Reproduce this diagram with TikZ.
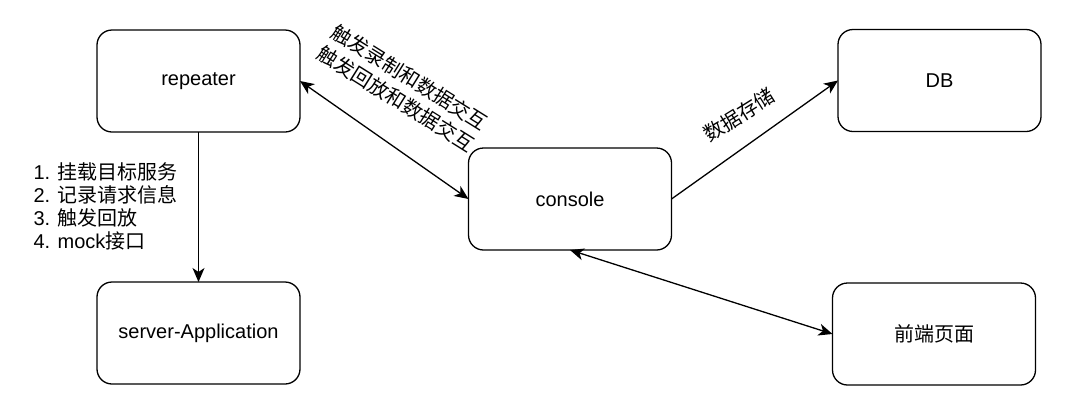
\documentclass[tikz,border=0pt]{standalone}
\usepackage{fontspec}
\setmainfont{Liberation Sans}
\newfontfamily\cjk{Noto Sans CJK SC}
\usepackage{tikz}
\usetikzlibrary{arrows.meta}

\tikzset{
	block/.style={draw, line width=1.3pt, rounded corners=15pt, minimum width=203pt, minimum height=102pt, inner sep=0pt, outer sep=0pt},
	tip/.tip={Stealth[length=14pt,width=12pt,inset=4pt]},
	link/.style={line width=1.3pt, -tip},
	bilink/.style={line width=1.3pt, tip-tip},
	cjktext/.style={font=\fontsize{20}{23}\selectfont\cjk}
}

\begin{document}
\begin{tikzpicture}[x=1pt, y=-1pt, font=\fontsize{20}{23}\selectfont]
	\useasboundingbox (0,0) rectangle (1080,416);
	\node[block] (repeater) at (198.5,81) {repeater};
	\node[block] (server) at (198.5,333) {server-Application};
	\node[block] (console) at (570,199) {console};
	\node[block] (db) at (939.5,80.5) {DB};
	\node[block, cjktext] (web) at (934,334) {前端页面};
	\draw[link] (repeater) -- (server);
	\draw[bilink] (repeater.east) -- (console.west);
	\draw[link] (console.east) -- (db.west);
	\draw[bilink] (console.south) -- (web.west);
	\node[anchor=west, align=left] (steps) at (30,206) {1. {\cjk 挂载目标服务}\\2. {\cjk 记录请求信息}\\3. {\cjk 触发回放}\\4. mock{\cjk 接口}};
	% two lines along the repeater-console link
	\node[font=\fontsize{20}{25}\selectfont\cjk, rotate=-32, align=center] (replay) at (403,88) {触发录制和数据交互\\触发回放和数据交互};
	\node[cjktext, rotate=32] (store) at (739,115) {数据存储};
\end{tikzpicture}
\end{document}
